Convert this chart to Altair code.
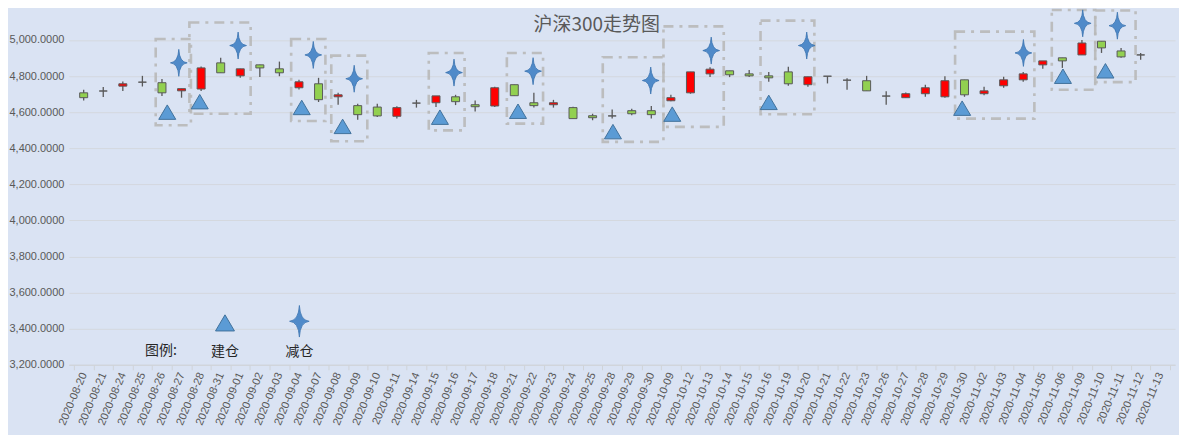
import altair as alt
import pandas as pd

# ---------------- data ----------------
dates = ["2020-08-20", "2020-08-21", "2020-08-24", "2020-08-25", "2020-08-26", "2020-08-27",
         "2020-08-28", "2020-08-31", "2020-09-01", "2020-09-02", "2020-09-03", "2020-09-04",
         "2020-09-07", "2020-09-08", "2020-09-09", "2020-09-10", "2020-09-11", "2020-09-14",
         "2020-09-15", "2020-09-16", "2020-09-17", "2020-09-18", "2020-09-21", "2020-09-22",
         "2020-09-23", "2020-09-24", "2020-09-25", "2020-09-28", "2020-09-29", "2020-09-30",
         "2020-10-09", "2020-10-12", "2020-10-13", "2020-10-14", "2020-10-15", "2020-10-16",
         "2020-10-19", "2020-10-20", "2020-10-21", "2020-10-22", "2020-10-23", "2020-10-26",
         "2020-10-27", "2020-10-28", "2020-10-29", "2020-10-30", "2020-11-02", "2020-11-03",
         "2020-11-04", "2020-11-05", "2020-11-06", "2020-11-09", "2020-11-10", "2020-11-11",
         "2020-11-12", "2020-11-13"]

open_ = [4707, 4717, 4744, 4766, 4763, 4718, 4728, 4873, 4801, 4862, 4840, 4735, 4757, 4685,
         4636, 4628, 4577, 4650, 4652, 4685, 4641, 4634, 4752, 4652, 4641, 4625, 4580, 4579,
         4608, 4608, 4663, 4707, 4812, 4829, 4812, 4801, 4823, 4752, 4799, 4777, 4774, 4689,
         4680, 4702, 4685, 4779, 4702, 4746, 4779, 4862, 4901, 4917, 4993, 4939, 4917]
high = [4724, 4739, 4770, 4801, 4783, 4730, 4853, 4901, 4840, 4862, 4880, 4779, 4790, 4707,
        4647, 4647, 4632, 4668, 4690, 4696, 4665, 4741, 4752, 4707, 4668, 4630, 4591, 4614,
        4619, 4634, 4696, 4823, 4849, 4829, 4834, 4823, 4851, 4796, 4800, 4788, 4801, 4715,
        4709, 4752, 4799, 4779, 4740, 4796, 4823, 4884, 4901, 5000, 4993, 4956, 4928]
low = [4665, 4684, 4717, 4742, 4689, 4680, 4717, 4818, 4790, 4794, 4799, 4726, 4656, 4641,
       4558, 4573, 4564, 4625, 4628, 4639, 4604, 4628, 4691, 4625, 4625, 4564, 4555, 4564,
       4582, 4564, 4660, 4702, 4794, 4794, 4794, 4768, 4746, 4740, 4759, 4724, 4718, 4641,
       4680, 4685, 4680, 4685, 4693, 4735, 4768, 4840, 4845, 4917, 4928, 4901, 4890]
close = [4680, 4717, 4757, 4766, 4707, 4730, 4845, 4818, 4840, 4845, 4818, 4768, 4669, 4696,
         4586, 4579, 4625, 4650, 4690, 4658, 4630, 4735, 4691, 4636, 4652, 4564, 4569, 4579,
         4591, 4586, 4680, 4823, 4838, 4807, 4801, 4790, 4757, 4796, 4799, 4777, 4718, 4689,
         4702, 4735, 4774, 4696, 4718, 4779, 4812, 4884, 4884, 4983, 4956, 4906, 4917]

# annotation markers, positioned in trading-day units (x) and index points (y)
build_x = [4.77, 6.43, 11.64, 13.73, 18.70, 22.69, 27.54, 30.57, 35.50, 45.38, 50.53, 52.70]
build_y = [4600, 4658, 4626, 4521, 4572, 4605, 4492, 4589, 4654, 4622, 4799, 4829]
reduce_x = [5.36, 8.39, 12.23, 14.32, 19.42, 23.46, 29.47, 32.56, 37.44, 48.51, 51.54, 53.31]
reduce_y = [4873, 4969, 4917, 4785, 4819, 4827, 4775, 4941, 4969, 4928, 5092, 5079]
box_x1 = [4.18, 5.90, 11.10, 13.15, 18.13, 22.12, 27.02, 30.12, 35.08, 45.02, 49.96, 52.18]
box_x2 = [5.98, 9.03, 12.85, 14.99, 19.96, 23.97, 30.12, 33.20, 37.83, 49.07, 52.18, 54.24]
box_lo = [4527, 4591, 4551, 4439, 4499, 4536, 4435, 4518, 4588, 4564, 4724, 4766]
box_hi = [5005, 5097, 5005, 4913, 4928, 4928, 4904, 5075, 5107, 5046, 5166, 5163]

legend_labels = ["图例:", "建仓", "减仓"]
legend_label_x = [4.45, 7.72, 11.52]
legend_label_y = [3276, 3268, 3268]
legend_mark_x = [7.72, 11.52]
legend_mark_y = [3432, 3441]

# ---------------- layout ----------------
n = len(dates)
W, H = 1108, 357
band = W / n
FONT = "Liberation Sans"
CJK = "Noto Sans CJK SC"
GREY = "#595959"

candles = pd.DataFrame({
    "date": dates[:len(open_)],
    "pos": [i + 0.5 for i in range(len(open_))],
    "open": open_, "high": high, "low": low, "close": close,
})
candles["dir"] = [
    "up" if c > o else ("down" if c < o else "flat") for o, c in zip(open_, close)
]

label_list = ",".join("'" + d + "'" for d in dates)
label_expr = f"datum.value < {n} ? [{label_list}][datum.value] : ''"

xscale = alt.Scale(domain=[0, n], nice=False, zero=False)
yscale = alt.Scale(domain=[3200, 5175], nice=False, zero=False)
xaxis = alt.Axis(values=list(range(n + 1)), labelExpr=label_expr, labelAngle=-67,
                 labelOffset=band / 2, labelPadding=3, labelFontSize=11, labelFont=FONT,
                 labelColor=GREY, tickColor="#CFD3D8", tickSize=5, domainColor="#CFD3D8",
                 grid=False, labelOverlap=False, labelBound=False, title=None)
yaxis = alt.Axis(values=[3200 + 200 * i for i in range(10)], format=",.4f", labelFontSize=11,
                 labelFont=FONT, labelColor=GREY, labelPadding=5, domain=False, ticks=False,
                 grid=True, gridColor="#D4D8DE", gridWidth=1, title=None)


def X(field):
    return alt.X(field, type="quantitative", scale=xscale, axis=xaxis)


def Y(field):
    return alt.Y(field, type="quantitative", scale=yscale, axis=yaxis)


base = alt.Chart(candles)
wicks = base.mark_rule(color=GREY, strokeWidth=1.3).encode(
    x=X("pos"), y=Y("low"), y2="high")
bodies = base.mark_bar(size=8, stroke=GREY, strokeWidth=1).encode(
    x=X("pos"), y=Y("open"), y2="close",
    color=alt.Color("dir:N", scale=alt.Scale(domain=["up", "down", "flat"],
                                             range=["#FF0000", "#92D050", GREY]), legend=None))

boxes_df = pd.DataFrame({"x1": box_x1, "x2": box_x2, "lo": box_lo, "hi": box_hi})
boxes = alt.Chart(boxes_df).mark_rect(
    fill="transparent", stroke="#B8B8B8", strokeWidth=2.6, strokeDash=[10, 6, 3, 6],
    strokeOpacity=0.9).encode(x=X("x1"), x2="x2", y=Y("lo"), y2="hi")

TRI = "M0,-0.85 L1,0.85 L-1,0.85 Z"
STAR = "M0,-1 Q0.05,-0.05 0.62,0 Q0.05,0.05 0,1 Q-0.05,0.05 -0.62,0 Q-0.05,-0.05 0,-1 Z"

tri_df = pd.DataFrame({"x": build_x, "y": build_y})
tris = alt.Chart(tri_df).mark_point(
    shape=TRI, size=290, filled=True, fill="#5B9BD5", stroke="#41719C", strokeWidth=1,
    opacity=1).encode(x=X("x"), y=Y("y"))

star_df = pd.DataFrame({"x": reduce_x, "y": reduce_y})
stars = alt.Chart(star_df).mark_point(
    shape=STAR, size=730, filled=True, fill="#4F8AC9", stroke="#3B73B0", strokeWidth=0.8,
    opacity=1).encode(x=X("x"), y=Y("y"))

lt_df = pd.DataFrame({"x": legend_mark_x[:1], "y": legend_mark_y[:1]})
leg_tri = alt.Chart(lt_df).mark_point(
    shape=TRI, size=360, filled=True, fill="#5B9BD5", stroke="#41719C", strokeWidth=1,
    opacity=1).encode(x=X("x"), y=Y("y"))
ls_df = pd.DataFrame({"x": legend_mark_x[1:], "y": legend_mark_y[1:]})
leg_star = alt.Chart(ls_df).mark_point(
    shape=STAR, size=1000, filled=True, fill="#4F8AC9", stroke="#3B73B0", strokeWidth=0.8,
    opacity=1).encode(x=X("x"), y=Y("y"))

txt_df = pd.DataFrame({"t": legend_labels, "x": legend_label_x, "y": legend_label_y})
texts = alt.Chart(txt_df).mark_text(
    font=CJK, fontSize=14, color="#262626", baseline="middle", align="center").encode(
    x=X("x"), y=Y("y"), text="t:N")

chart = alt.layer(wicks, bodies, boxes, tris, stars, leg_tri, leg_star, texts).properties(
    width=W, height=H,
    title=alt.TitleParams(text="沪深300走势图", font=CJK, fontSize=19, fontWeight="normal",
                          color=GREY, anchor="middle", frame="bounds", offset=-27),
    autosize=alt.AutoSizeParams(type="none"),
    padding={"left": 61, "top": 0, "right": 4, "bottom": 70},
    background="#DAE3F3",
).configure_view(stroke=None)

chart.save("out.html", embed_options={"renderer": "svg", "actions": False})
